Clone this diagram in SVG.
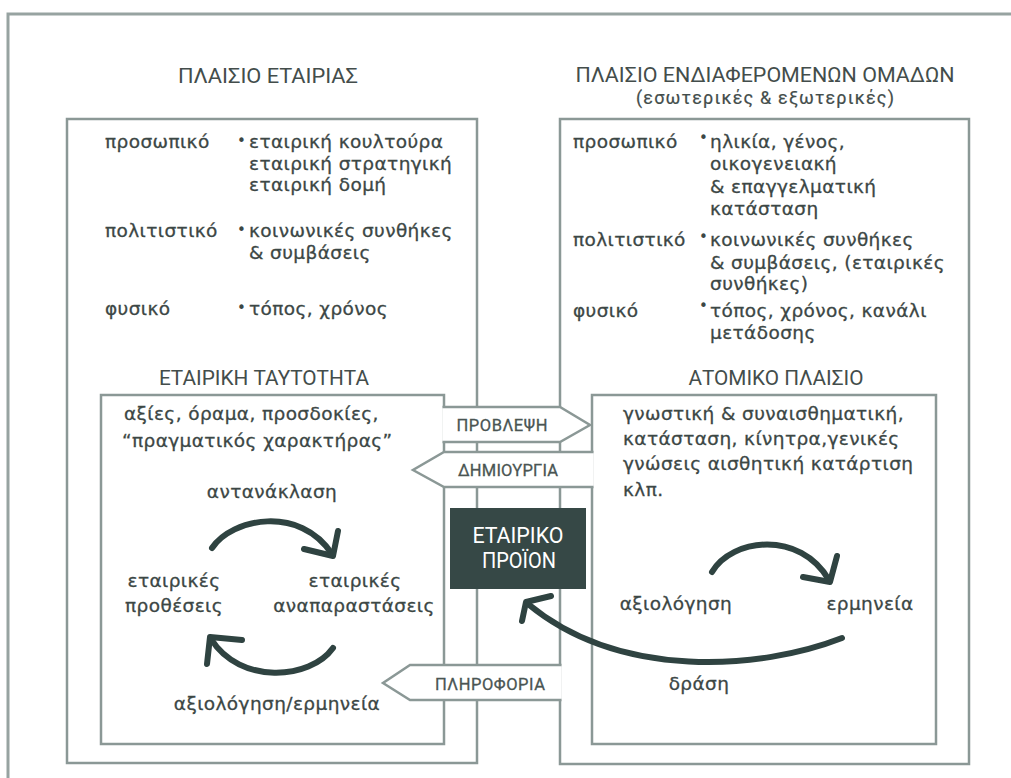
<svg xmlns="http://www.w3.org/2000/svg" width="1011" height="778" viewBox="0 0 1011 778">
  <defs>
    <style>
      .frame{fill:none;stroke:#97a3a1;stroke-width:3}
      .box{fill:none;stroke:#8b9896;stroke-width:2.5}
      .mask{fill:#fff;stroke:none}
      .tab{fill:none;stroke:#8b9896;stroke-width:2.5;stroke-linejoin:miter}
      .curve{fill:none;stroke:#2f4341;stroke-width:6;stroke-linecap:round;stroke-linejoin:round}
      .t{font-family:"DejaVu Sans","Noto Sans",sans-serif;font-size:18.5px;letter-spacing:0.4px;fill:#3c4745;stroke:#3c4745;stroke-width:0.3}
      .c{text-anchor:middle}
      .h{font-family:Roboto,"Liberation Sans",sans-serif;font-size:21px;fill:#434d4b;text-anchor:middle}
      .sub{font-family:Roboto,"Liberation Sans",sans-serif;font-size:18px;fill:#434d4b;stroke:#434d4b;stroke-width:0.2;text-anchor:middle}
      .lbl{font-family:Roboto,"Liberation Sans",sans-serif;font-size:16.5px;fill:#4a5553;stroke:#4a5553;stroke-width:0.3;text-anchor:middle}
      .core{font-family:Roboto,"Liberation Sans",sans-serif;font-size:22px;fill:#ffffff;text-anchor:middle}
      .dot{font-family:"DejaVu Sans",sans-serif;font-size:15px;fill:#3c4745}
    </style>
  </defs>

  <rect width="1011" height="778" fill="#ffffff"/>
  <path class="frame" d="M8,778 V14 H1011"/>

  <!-- company context -->
  <g id="company-context">
    <rect class="box" x="67" y="119" width="410" height="644"/>
    <text class="h" x="268" y="83" textLength="180" lengthAdjust="spacingAndGlyphs">ΠΛΑΙΣΙΟ ΕΤΑΙΡΙΑΣ</text>
    <text class="t" x="105" y="148">προσωπικό</text>
    <text class="dot" x="237" y="146">•</text>
    <text class="t" x="249" y="148">εταιρική κουλτούρα</text>
    <text class="t" x="249" y="170">εταιρική στρατηγική</text>
    <text class="t" x="249" y="191">εταιρική δομή</text>
    <text class="t" x="105" y="237">πολιτιστικό</text>
    <text class="dot" x="237" y="235">•</text>
    <text class="t" x="249" y="237">κοινωνικές συνθήκες</text>
    <text class="t" x="249" y="259">&amp; συμβάσεις</text>
    <text class="t" x="105" y="315">φυσικό</text>
    <text class="dot" x="237" y="313">•</text>
    <text class="t" x="249" y="315">τόπος, χρόνος</text>
  </g>

  <!-- stakeholder context -->
  <g id="stakeholder-context">
    <rect class="box" x="560" y="119" width="409" height="645"/>
    <text class="h" x="765" y="82" textLength="379" lengthAdjust="spacingAndGlyphs">ΠΛΑΙΣΙΟ ΕΝΔΙΑΦΕΡΟΜΕΝΩΝ ΟΜΑΔΩΝ</text>
    <text class="sub" x="765" y="104" textLength="258">(εσωτερικές &amp; εξωτερικές)</text>
    <text class="t" x="573" y="148">προσωπικό</text>
    <text class="dot" x="699" y="143">•</text>
    <text class="t" x="710" y="148">ηλικία, γένος,</text>
    <text class="t" x="710" y="170">οικογενειακή</text>
    <text class="t" x="710" y="193">&amp; επαγγελματική</text>
    <text class="t" x="710" y="215">κατάσταση</text>
    <text class="t" x="573" y="246">πολιτιστικό</text>
    <text class="dot" x="699" y="242">•</text>
    <text class="t" x="710" y="246">κοινωνικές συνθήκες</text>
    <text class="t" x="710" y="269">&amp; συμβάσεις, (εταιρικές</text>
    <text class="t" x="710" y="290">συνθήκες)</text>
    <text class="t" x="573" y="317">φυσικό</text>
    <text class="dot" x="699" y="311">•</text>
    <text class="t" x="710" y="317">τόπος, χρόνος, κανάλι</text>
    <text class="t" x="710" y="339">μετάδοσης</text>
  </g>

  <!-- corporate identity -->
  <g id="corporate-identity">
    <rect class="box" x="101" y="395" width="343" height="349"/>
    <text class="h" x="264" y="385" textLength="210" lengthAdjust="spacingAndGlyphs">ΕΤΑΙΡΙΚΗ ΤΑΥΤΟΤΗΤΑ</text>
    <text class="t" x="124" y="420">αξίες, όραμα, προσδοκίες,</text>
    <text class="t" x="122" y="447">“πραγματικός χαρακτήρας”</text>
    <text class="t c" x="272" y="498">αντανάκλαση</text>
    <text class="t c" x="174" y="587">εταιρικές</text>
    <text class="t c" x="174" y="612">προθέσεις</text>
    <text class="t c" x="355" y="587">εταιρικές</text>
    <text class="t c" x="354" y="612">αναπαραστάσεις</text>
    <text class="t c" x="277" y="710">αξιολόγηση/ερμηνεία</text>
  </g>

  <!-- individual context -->
  <g id="individual-context">
    <rect class="box" x="592" y="395" width="344" height="349"/>
    <text class="h" x="776" y="385" textLength="175" lengthAdjust="spacingAndGlyphs">ΑΤΟΜΙΚΟ ΠΛΑΙΣΙΟ</text>
    <text class="t" x="623" y="420">γνωστική &amp; συναισθηματική,</text>
    <text class="t" x="623" y="445">κατάσταση, κίνητρα,γενικές</text>
    <text class="t" x="623" y="470">γνώσεις αισθητική κατάρτιση</text>
    <text class="t" x="623" y="496">κλπ.</text>
    <text class="t c" x="676" y="610">αξιολόγηση</text>
    <text class="t c" x="870" y="610">ερμηνεία</text>
    <text class="t c" x="699" y="690">δράση</text>
  </g>

  <!-- connectors: arrow tabs between the frames and the curved cycle arrows -->
  <g id="connectors">
    <g id="tab-provlepsi">
      <polygon class="mask" points="442.5,407 560,407 590,425 560,442 442.5,442"/>
      <path class="tab" d="M442.5,407 H560 L590,425 L560,442 H442.5"/>
      <text class="lbl" x="502" y="431" textLength="91">ΠΡΟΒΛΕΨΗ</text>
    </g>
    <g id="tab-dimiourgia">
      <polygon class="mask" points="593.5,452 444,452 413,470 444,487 593.5,487"/>
      <path class="tab" d="M593.5,452 H444 L413,470 L444,487 H593.5"/>
      <text class="lbl" x="508" y="476" textLength="100">ΔΗΜΙΟΥΡΓΙΑ</text>
    </g>
    <g id="tab-pliroforia">
      <polygon class="mask" points="561.5,665 410,665 383,683 410,700 561.5,700"/>
      <path class="tab" d="M561.5,665 H410 L383,683 L410,700 H561.5"/>
      <text class="lbl" x="490" y="690" textLength="110">ΠΛΗΡΟΦΟΡΙΑ</text>
    </g>

    <!-- reflection cycle -->
    <path class="curve" d="M212,548 C232,518 300,505 332,554"/>
    <path class="curve" d="M304,549 L333,556 L338,531"/>
    <path class="curve" d="M333,648 C310,680 240,685 211,639"/>
    <path class="curve" d="M242,640 L210,637 L207,664"/>

    <!-- evaluation to interpretation -->
    <path class="curve" d="M712,572 C732,538 800,530 829,580"/>
    <path class="curve" d="M803,577 L830,582 L837,556"/>

    <!-- action back to the product -->
    <path class="curve" d="M842,638 C760,670 620,680 528,604"/>
    <path class="curve" d="M551,596 L526,602 L522,621"/>
  </g>

  <!-- corporate product -->
  <g id="corporate-product">
    <rect x="450" y="508" width="136" height="81" fill="#364846"/>
    <text class="core" x="518" y="543" textLength="91" lengthAdjust="spacingAndGlyphs">ΕΤΑΙΡΙΚΟ</text>
    <text class="core" x="519" y="568" textLength="74" lengthAdjust="spacingAndGlyphs">ΠΡΟΪΟΝ</text>
  </g>
</svg>
